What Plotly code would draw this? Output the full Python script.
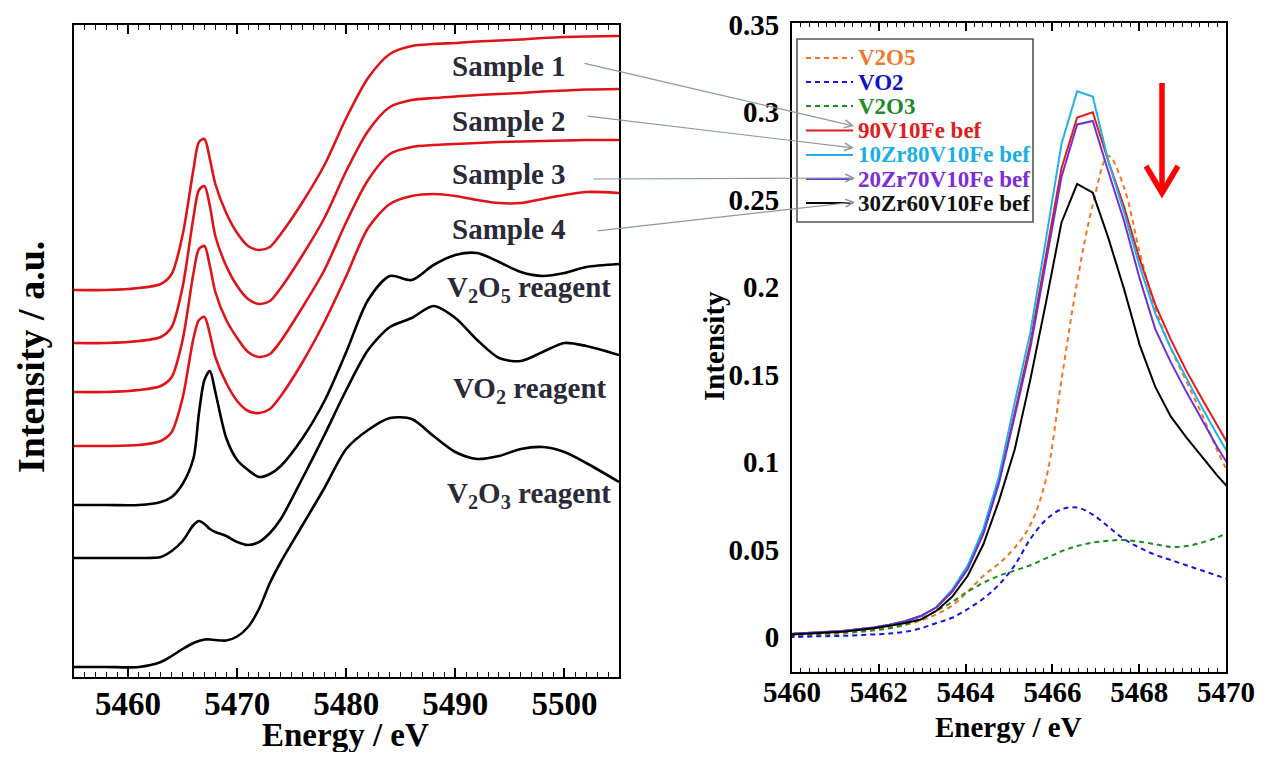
import plotly.graph_objects as go

FONT = "Liberation Serif, Times New Roman, serif"
# The page body has an 8px margin, so the figure is sized to fit inside the window.
OFF = 8
W, H = 1266 - 2 * OFF, 760 - 2 * OFF

# ---------------- Left panel: V K-edge XANES (normalized, stacked) ----------------
E_LEFT = [5455, 5458, 5461, 5463, 5464, 5465, 5466, 5466.5, 5467, 5467.5, 5468, 5469,
          5470, 5471, 5472, 5473, 5474, 5476, 5478, 5480, 5482, 5484, 5486, 5488,
          5490, 5492, 5494, 5496, 5498, 5500, 5502, 5505]

mu_sample1 = [0, 0, 0.008, 0.024, 0.064, 0.22, 0.484, 0.592, 0.604, 0.524, 0.424, 0.308,
              0.228, 0.176, 0.16, 0.172, 0.224, 0.352, 0.5, 0.688, 0.848, 0.944, 0.976, 0.984,
              0.988, 0.994, 0.998, 1.002, 1.008, 1.012, 1.014, 1.016]
mu_sample2 = [0, 0, 0.008, 0.024, 0.064, 0.224, 0.504, 0.612, 0.628, 0.548, 0.428, 0.308,
              0.228, 0.176, 0.156, 0.168, 0.22, 0.352, 0.5, 0.688, 0.848, 0.944, 0.972, 0.98,
              0.986, 0.992, 0.996, 1.0, 1.006, 1.01, 1.014, 1.016]
mu_sample3 = [0, 0, 0.008, 0.024, 0.06, 0.208, 0.476, 0.572, 0.584, 0.504, 0.4, 0.288,
              0.216, 0.16, 0.14, 0.152, 0.204, 0.34, 0.488, 0.68, 0.848, 0.952, 0.98, 0.988,
              0.992, 0.996, 1.0, 1.002, 1.004, 1.006, 1.008, 1.008]
mu_sample4 = [0, 0, 0.004, 0.02, 0.056, 0.192, 0.432, 0.504, 0.516, 0.448, 0.356, 0.252,
              0.18, 0.14, 0.132, 0.148, 0.2, 0.336, 0.496, 0.68, 0.872, 0.968, 1.0, 1.008,
              1.0, 0.984, 0.972, 0.972, 0.988, 1.004, 1.016, 1.012]
mu_v2o5 = [0, 0, 0, 0.012, 0.032, 0.084, 0.188, 0.368, 0.5, 0.536, 0.452, 0.268,
           0.18, 0.14, 0.112, 0.124, 0.156, 0.268, 0.416, 0.612, 0.82, 0.916, 0.9, 0.96,
           1.0, 1.008, 0.972, 0.932, 0.916, 0.928, 0.952, 0.964]
mu_vo2 = [0, 0, 0, 0.004, 0.028, 0.068, 0.132, 0.148, 0.136, 0.116, 0.104, 0.088,
          0.064, 0.052, 0.064, 0.1, 0.156, 0.32, 0.492, 0.672, 0.832, 0.924, 0.96, 1.008,
          0.96, 0.872, 0.8, 0.788, 0.824, 0.86, 0.848, 0.812]
mu_v2o3 = [0, 0, 0, 0.02, 0.044, 0.072, 0.096, 0.104, 0.11, 0.11, 0.108, 0.106,
           0.122, 0.16, 0.232, 0.336, 0.42, 0.568, 0.716, 0.872, 0.948, 0.996, 0.992, 0.924,
           0.86, 0.832, 0.844, 0.872, 0.88, 0.86, 0.816, 0.74]

LEFT_NAMES = ["Sample 1", "Sample 2", "Sample 3", "Sample 4",
              "V2O5 reagent", "VO2 reagent", "V2O3 reagent"]
LEFT_SPECTRA = [mu_sample1, mu_sample2, mu_sample3, mu_sample4, mu_v2o5, mu_vo2, mu_v2o3]
LEFT_OFFSETS = [1.508, 1.296, 1.100, 0.884, 0.648, 0.436, 0.0]
LEFT_COLORS = ["#E01418"] * 4 + ["#000000"] * 3

# ---------------- Right panel: pre-edge region ----------------
E_RIGHT = [5459.73, 5460.09, 5460.45, 5460.81, 5461.17, 5461.53, 5461.89, 5462.25, 5462.61,
           5462.97, 5463.33, 5463.69, 5464.05, 5464.41, 5464.77, 5465.13, 5465.49, 5465.85,
           5466.21, 5466.57, 5466.93, 5467.29, 5467.65, 5468.01, 5468.37, 5468.73, 5469.09,
           5469.45, 5469.81, 5470.17]

ref_v2o5 = [0.0, 0.0005, 0.001, 0.0015, 0.002, 0.003, 0.004, 0.0055, 0.007, 0.0095, 0.013,
            0.018, 0.026, 0.035, 0.042, 0.051, 0.064, 0.090, 0.147, 0.203, 0.247, 0.275,
            0.257, 0.220, 0.188, 0.165, 0.146, 0.127, 0.106, 0.088]
ref_vo2 = [0.0, 0.0, 0.0003, 0.0005, 0.0007, 0.001, 0.0015, 0.002, 0.003, 0.005, 0.008,
           0.011, 0.016, 0.022, 0.030, 0.041, 0.056, 0.067, 0.073, 0.074, 0.070, 0.063,
           0.056, 0.051, 0.047, 0.044, 0.041, 0.038, 0.035, 0.032]
ref_v2o3 = [0.001, 0.0012, 0.0015, 0.002, 0.0025, 0.003, 0.0038, 0.005, 0.007, 0.0105, 0.015,
            0.020, 0.026, 0.031, 0.035, 0.038, 0.041, 0.045, 0.049, 0.052, 0.054, 0.055,
            0.0555, 0.0545, 0.053, 0.0515, 0.052, 0.054, 0.057, 0.061]
s_90v10fe = [0.001, 0.002, 0.0025, 0.003, 0.0035, 0.0045, 0.0055, 0.007, 0.009, 0.012, 0.017,
             0.026, 0.039, 0.060, 0.089, 0.128, 0.168, 0.218, 0.268, 0.297, 0.300, 0.272,
             0.246, 0.216, 0.190, 0.170, 0.152, 0.136, 0.120, 0.105]
s_10zr = [0.001, 0.002, 0.0025, 0.003, 0.0035, 0.0045, 0.0055, 0.007, 0.009, 0.012, 0.017,
          0.027, 0.041, 0.062, 0.092, 0.134, 0.174, 0.227, 0.282, 0.312, 0.309, 0.272,
          0.243, 0.212, 0.185, 0.165, 0.148, 0.131, 0.115, 0.100]
s_20zr = [0.001, 0.002, 0.0025, 0.003, 0.0035, 0.0045, 0.0055, 0.007, 0.009, 0.012, 0.017,
          0.026, 0.039, 0.059, 0.088, 0.126, 0.165, 0.214, 0.263, 0.293, 0.295, 0.266,
          0.238, 0.205, 0.176, 0.157, 0.140, 0.124, 0.108, 0.094]
s_30zr = [0.001, 0.0015, 0.002, 0.0025, 0.003, 0.004, 0.005, 0.0065, 0.008, 0.010, 0.015,
          0.023, 0.035, 0.053, 0.078, 0.107, 0.147, 0.191, 0.237, 0.259, 0.254, 0.228,
          0.199, 0.167, 0.143, 0.126, 0.114, 0.103, 0.092, 0.082]

RIGHT_NAMES = ["V2O5", "VO2", "V2O3", "90V10Fe bef", "10Zr80V10Fe bef",
               "20Zr70V10Fe bef", "30Zr60V10Fe bef"]
RIGHT_SERIES = [ref_v2o5, ref_vo2, ref_v2o3, s_90v10fe, s_10zr, s_20zr, s_30zr]
RIGHT_COLORS = ["#F5741F", "#1414E0", "#1E8C23", "#E4191C", "#1EB2E8", "#7030D6", "#000000"]
RIGHT_TEXT_COLORS = ["#F0782D", "#1010C8", "#1E8A28", "#E01E1E", "#1AAEE4", "#7A2FD6", "#111111"]
RIGHT_DASHED = [True, True, True, False, False, False, False]


def PX(x):
    """window pixel x -> paper fraction"""
    return (x - OFF) / W


def PY(y):
    """window pixel y -> paper fraction"""
    return 1 - (y - OFF) / H


fig = go.Figure()

for name, mu, off, col in zip(LEFT_NAMES, LEFT_SPECTRA, LEFT_OFFSETS, LEFT_COLORS):
    fig.add_trace(go.Scatter(
        x=E_LEFT, y=[v + off for v in mu], mode="lines", name=name,
        line=dict(color=col, width=2.6, shape="spline", smoothing=0.8),
        xaxis="x", yaxis="y", showlegend=False))

for name, ser, col, dashed in zip(RIGHT_NAMES, RIGHT_SERIES, RIGHT_COLORS, RIGHT_DASHED):
    fig.add_trace(go.Scatter(
        x=E_RIGHT, y=ser, mode="lines", name=name,
        line=dict(color=col, width=2.0, dash="5px,4px" if dashed else "solid",
                  shape="spline" if dashed else "linear"),
        xaxis="x2", yaxis="y2", showlegend=False))

axis_common = dict(showline=True, linewidth=2, linecolor="black", showgrid=False,
                   zeroline=False, automargin=False)

fig.update_layout(
    template="none",
    width=W, height=H, autosize=False,
    margin=dict(l=0, r=0, t=0, b=0, pad=0),
    paper_bgcolor="white", plot_bgcolor="white",
    showlegend=False,
    xaxis=dict(**axis_common, domain=[PX(73.5), PX(619)], range=[5455, 5505],
               tick0=5460, dtick=10, ticks="inside", ticklen=9, tickwidth=1.5,
               tickcolor="black", mirror="allticks",
               minor=dict(dtick=1, ticks="inside", ticklen=5, tickwidth=1.2,
                          tickcolor="black"),
               tickfont=dict(family=FONT, size=33, color="black", weight="bold"),
               ticklabelstandoff=-4, anchor="y"),
    yaxis=dict(**axis_common, domain=[PY(677), PY(25)], range=[-0.04, 2.568],
               showticklabels=False, ticks="", mirror=True, anchor="x"),
    xaxis2=dict(**axis_common, domain=[PX(792), PX(1226)], range=[5460, 5470],
                tick0=5460, dtick=2, ticks="inside", ticklen=8, tickwidth=1.5,
                tickcolor="black", mirror="allticks",
                minor=dict(dtick=0.2, ticks="inside", ticklen=4, tickwidth=1.2,
                           tickcolor="black"),
                tickfont=dict(family=FONT, size=29, color="black", weight="bold"),
                ticklabelstandoff=-7, anchor="y2"),
    yaxis2=dict(**axis_common, domain=[PY(672), PY(23)], range=[-0.02, 0.351],
                tickvals=[0, 0.05, 0.1, 0.15, 0.2, 0.25, 0.3, 0.35],
                ticktext=["0", "0.05", "0.1", "0.15", "0.2", "0.25", "0.3", "0.35"],
                ticks="", mirror=True,
                tickfont=dict(family=FONT, size=29, color="black", weight="bold"),
                ticklabelstandoff=5, anchor="x2"),
)

annotations = []
shapes = []


def text(x, y, s, size, color="black", angle=0, xanchor="center"):
    annotations.append(dict(
        x=PX(x), y=PY(y), xref="paper", yref="paper", text=s, showarrow=False,
        xanchor=xanchor, yanchor="middle", textangle=angle,
        font=dict(family=FONT, size=size, color=color, weight="bold")))


# axis titles
text(345, 735, "Energy / eV", 33)
text(8, 357, "Intensity / a.u.", 38, angle=-90, xanchor="left")
text(1008, 727, "Energy / eV", 29)
text(714, 346, "Intensity", 29, angle=-90)

# left panel labels
LBL = "#2A2A38"
text(509, 66, "Sample 1", 29, LBL)
text(509, 121, "Sample 2", 29, LBL)
text(509, 174, "Sample 3", 29, LBL)
text(509, 229, "Sample 4", 29, LBL)
text(529, 289, "V<sub>2</sub>O<sub>5</sub> reagent", 29, LBL)
text(530, 390, "VO<sub>2</sub> reagent", 29, LBL)
text(529, 495, "V<sub>2</sub>O<sub>3</sub> reagent", 29, LBL)

# legend (manual, right panel)
shapes.append(dict(type="rect", xref="paper", yref="paper",
                   x0=PX(797), x1=PX(1033), y0=PY(222), y1=PY(39),
                   line=dict(color="#555555", width=1.6), fillcolor="white", layer="below"))
leg_y = [58, 82, 106, 130.5, 155, 179, 203]
for yy, name, col, tcol, dashed in zip(leg_y, RIGHT_NAMES, RIGHT_COLORS,
                                        RIGHT_TEXT_COLORS, RIGHT_DASHED):
    shapes.append(dict(type="line", xref="paper", yref="paper",
                       x0=PX(806), x1=PX(853), y0=PY(yy), y1=PY(yy),
                       line=dict(color=col, width=2.2, dash="5px,4px" if dashed else "solid")))
    text(856, yy, name, 23, tcol, xanchor="left")

# grey connector arrows: sample label -> legend entry (tail offsets in pixels)
GREY = "#8A9C9A"
for (tx, ty), (hx, hy) in [((583, 63), (854, 126)), ((586, 116), (854, 148)),
                           ((592, 179), (855, 178)), ((596, 231), (855, 202))]:
    annotations.append(dict(
        x=PX(hx), y=PY(hy), ax=tx - hx, ay=ty - hy, xref="paper", yref="paper",
        axref="pixel", ayref="pixel", text="", showarrow=True, arrowhead=5,
        arrowsize=1.3, arrowwidth=1.2, arrowcolor=GREY))

# red downward arrow
shapes.append(dict(type="line", xref="paper", yref="paper",
                   x0=PX(1162), x1=PX(1162), y0=PY(83), y1=PY(191),
                   line=dict(color="#FF0000", width=5.5)))
shapes.append(dict(type="path", xref="paper", yref="paper",
                   path=f"M{PX(1146)},{PY(166)} L{PX(1162)},{PY(193)} L{PX(1178)},{PY(166)}",
                   line=dict(color="#FF0000", width=5.5)))

fig.update_layout(annotations=annotations, shapes=shapes)
fig.write_html("out.html")
